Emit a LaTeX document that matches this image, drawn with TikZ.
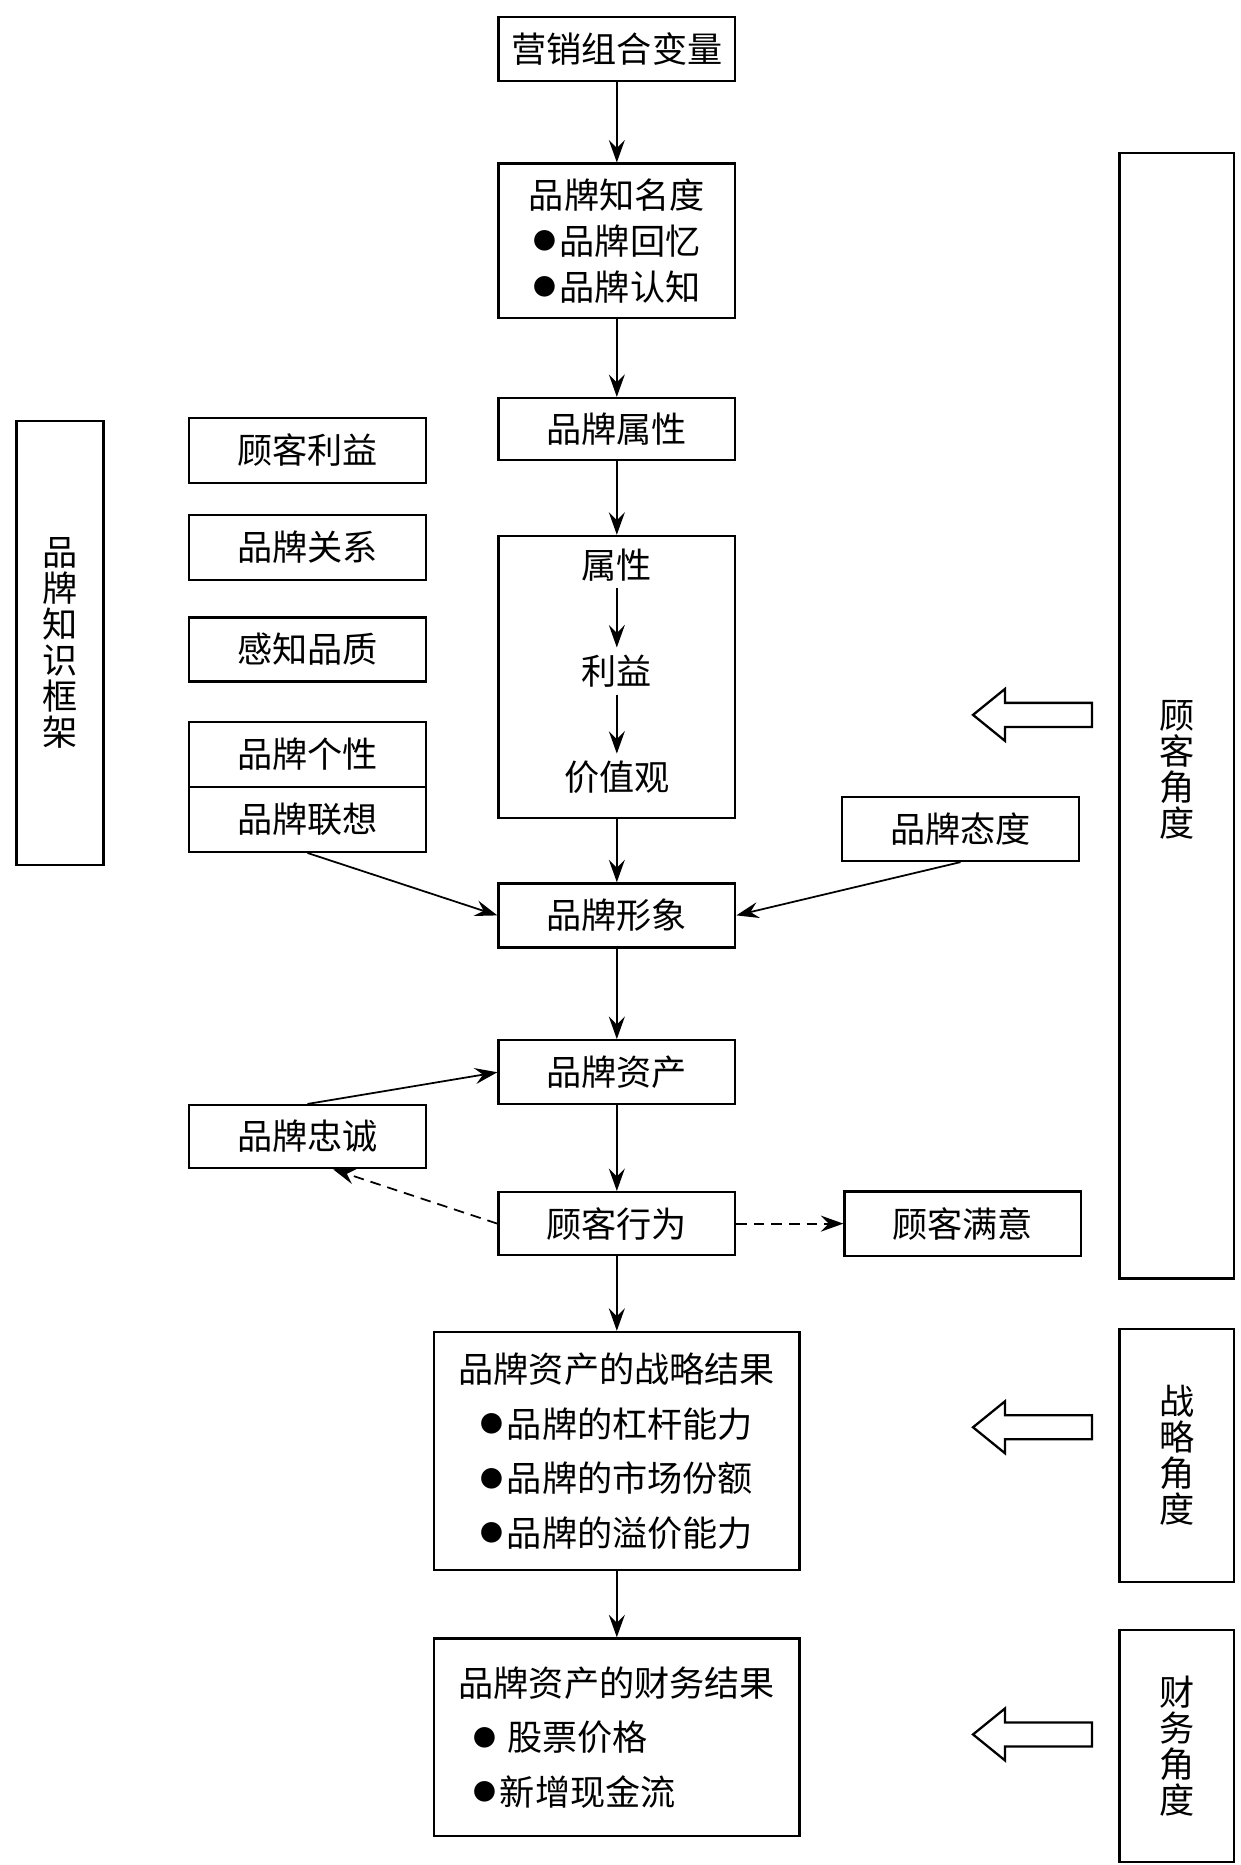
\documentclass[tikz,border=0pt]{standalone}
\usepackage{fontspec}
\setmainfont{Noto Sans CJK SC}
\usetikzlibrary{arrows.meta,positioning,calc}
\newcommand{\bul}{\raisebox{2.6pt}{\fontsize{13}{13}\selectfont ●}\hspace{2pt}}

\begin{document}
\begin{tikzpicture}[
  font=\fontsize{20}{26}\selectfont,
  box/.style={rectangle, draw=black, line width=1.3pt, minimum width=4.73cm, minimum height=1.28cm, align=center, inner sep=2pt},
  sidebox/.style={rectangle, draw=black, line width=1.3pt, minimum width=2.28cm, align=center, inner sep=2pt, font=\fontsize{20}{20.5}\selectfont},
  plain/.style={inner sep=4pt},
  flow/.style={-{Stealth[length=4.5mm, width=3.2mm, inset=1.6mm]}, line width=1pt},
  hint/.style={flow, dash pattern=on 6pt off 4pt},
  fat/.style={line width=1.3pt, line join=miter}
]
\useasboundingbox (0,0) rectangle (24.8,-37.28);

% main column
\node[box] (mix) at (12.33,-0.975) {营销组合变量};
\node[box, below=1.61cm of mix, minimum height=3.09cm] (aware) {品牌知名度\\\bul 品牌回忆\\\bul 品牌认知};
\node[box, below=1.55cm of aware, minimum height=1.24cm] (attr) {品牌属性};
\node[box, below=1.47cm of attr, minimum height=5.64cm] (chain) {};
\node[plain, below=0.13cm of chain.north] (inattr) {属性};
\node[plain, below=1.18cm of inattr] (inbenef) {利益};
\node[plain, below=1.18cm of inbenef] (invalue) {价值观};
\node[box, below=1.26cm of chain] (image) {品牌形象};
\node[box, below=1.81cm of image] (equity) {品牌资产};
\node[box, below=1.71cm of equity, minimum height=1.26cm] (action) {顾客行为};
\node[box, below=1.49cm of action, minimum width=7.30cm, minimum height=4.76cm, font=\fontsize{20}{31}\selectfont] (strat)
  {品牌资产的战略结果\\\bul 品牌的杠杆能力\\\bul 品牌的市场份额\\\bul 品牌的溢价能力};
\node[box, below=1.32cm of strat, minimum width=7.30cm, minimum height=3.95cm, align=left, font=\fontsize{20}{31}\selectfont] (fin)
  {品牌资产的财务结果\\\hspace*{0.3cm}\bul\hspace{4pt}股票价格\\\hspace*{0.3cm}\bul 新增现金流};

% left side
\node[sidebox, minimum width=1.74cm, minimum height=8.87cm] (frame) at (1.20,-12.85) {品\\牌\\知\\识\\框\\架};
\node[box, minimum height=1.3cm] (benefit) at (6.147,-9.0) {顾客利益};
\node[box, minimum height=1.3cm, below=0.60cm of benefit] (relation) {品牌关系};
\node[box, minimum height=1.28cm, below=0.70cm of relation] (quality) {感知品质};
\node[box, minimum height=1.3cm, below=0.76cm of quality] (persona) {品牌个性};
\node[box, minimum height=1.3cm, below=-1.3pt of persona] (assoc) {品牌联想};
\node[box, minimum height=1.26cm] (loyal) at (6.147,-22.72) {品牌忠诚};

% right side
\node[box] (attitude) at (19.2,-16.57) {品牌态度};
\node[box, right=2.14cm of action] (satisf) {顾客满意};

\node[sidebox, minimum height=22.49cm] (custview) at (23.52,-14.31) {};
\node[align=center, font=\fontsize{20}{20.5}\selectfont] (custlbl) at (23.52,-15.38) {顾\\客\\角\\度};
\node[sidebox, minimum height=5.06cm] (stratview) at (23.52,-29.09) {战\\略\\角\\度};
\node[sidebox, minimum height=4.64cm] (finview) at (23.52,-34.9) {财\\务\\角\\度};

\foreach \y in {14.29,28.53,34.67}
  \draw[fat] (19.45,-\y) -- ++(0.64,0.52) -- ++(0,-0.28) -- ++(1.74,0) -- ++(0,-0.48) -- ++(-1.74,0) -- ++(0,-0.28) -- cycle;

% connectors
\draw[flow] (mix) -- (aware);
\draw[flow] (aware) -- (attr);
\draw[flow] (attr) -- (chain);
\draw[flow] (inattr) -- (inbenef);
\draw[flow] (inbenef) -- (invalue);
\draw[flow] (chain) -- (image);
\draw[flow] (image) -- (equity);
\draw[flow] (equity) -- (action);
\draw[flow] (action) -- (strat);
\draw[flow] (strat) -- (fin);
\draw[flow] (assoc.south) -- (image.west);
\draw[flow] (attitude.south) -- (image.east);
\draw[flow] (loyal.north) -- (equity.west);
\draw[hint] (action.west) -- (loyal.-52);
\draw[hint] (action) -- (satisf);

\end{tikzpicture}
\end{document}
